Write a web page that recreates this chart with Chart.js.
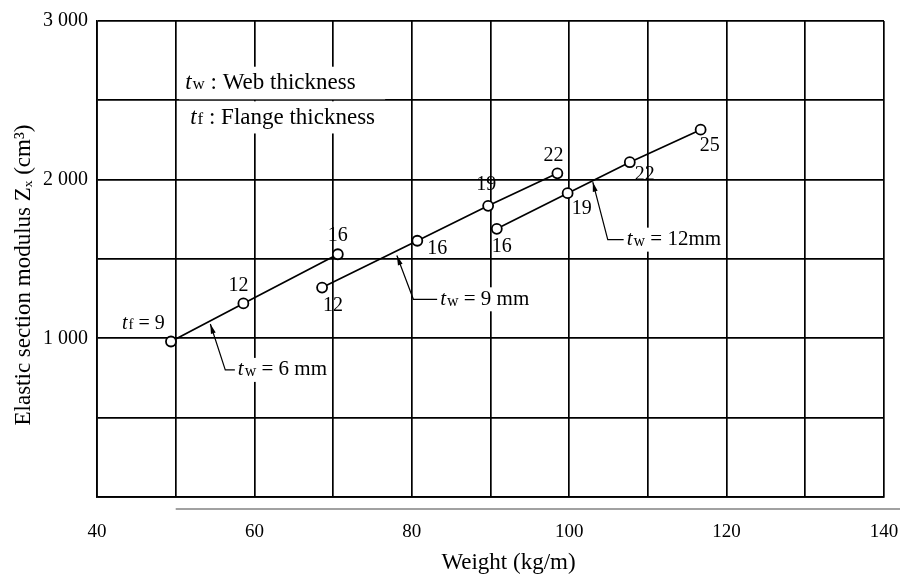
<!DOCTYPE html>
<html>
<head>
<meta charset="utf-8">
<script src="https://cdn.jsdelivr.net/npm/chart.js@4.4.1/dist/chart.umd.min.js"></script>
<style>
  html, body { margin: 0; padding: 0; background: #fff; }
  #wrap { width: 900px; height: 579px; }
</style>
</head>
<body>
<div id="wrap"><canvas id="zxChart" width="900" height="579"></canvas></div>
<script>
// Weight (kg/m) and elastic section modulus Zx (cm3) for each web thickness
const weights6 = [49.4, 58.6, 70.6];
const moduli6 = [980, 1220, 1530];
const flange6 = [9, 12, 16];

const weights9 = [68.6, 80.7, 89.7, 98.5];
const moduli9 = [1320, 1615, 1835, 2040];
const flange9 = [12, 16, 19, 22];

const weights12 = [90.8, 99.8, 107.7, 116.7];
const moduli12 = [1690, 1915, 2110, 2315];
const flange12 = [16, 19, 22, 25];

// Axis ticks and titles
const xTickLabels = [40, 60, 80, 100, 120, 140];
const yTickLabels = [1000, 2000, 3000];
const xTitle = 'Weight (kg/m)';
const yTitle = 'Elastic section modulus Zₓ (cm³)';

// Leader annotations "tw = ..mm": tip on the line, elbow, text start (data units)
const webThickness = ['6', '9', '12'];
const leaderTipX = [54.4, 78.1, 103.0];
const leaderTipY = [1090, 1522, 1985];
const leaderElbowX = [56.3, 80.2, 104.9];
const leaderElbowY = [801, 1246, 1622];
const leaderTextX = [57.9, 83.6, 107.3];

// Where each flange label sits relative to its point (pixel offsets, style only)
const labelOffsets = [
  [[-49, -18], [-5, -18], [0, -18]],
  [[11, 18], [20, 8], [-2, -21], [-4, -18]],
  [[5, 18], [14, 16], [15, 13], [9, 16]]
];

const SERIF = '"Liberation Serif", "DejaVu Serif", serif';

function toPoints(xs, ys) {
  return xs.map((x, i) => ({ x: x, y: ys[i] }));
}

function lineDataset(xs, ys) {
  return {
    data: toPoints(xs, ys),
    borderColor: '#000',
    borderWidth: 1.7,
    pointStyle: 'circle',
    pointRadius: 5,
    pointBorderWidth: 1.8,
    pointBackgroundColor: '#fff',
    pointBorderColor: '#000',
    showLine: true,
    tension: 0
  };
}

// draw "t" italic + small subscript letter + rest of text, returns end x
function drawT(ctx, x, y, sub, rest, size) {
  ctx.textAlign = 'left';
  ctx.textBaseline = 'middle';
  ctx.font = 'italic ' + size + 'px ' + SERIF;
  ctx.fillText('t', x, y);
  x += ctx.measureText('t').width + 1;
  ctx.font = Math.round(size * 0.75) + 'px ' + SERIF;
  ctx.fillText(sub, x, y + 2);
  x += ctx.measureText(sub).width;
  ctx.font = size + 'px ' + SERIF;
  ctx.fillText(rest, x, y);
  return x + ctx.measureText(rest).width;
}

const annotationPlugin = {
  id: 'annotations',
  afterDatasetsDraw(chart) {
    const ctx = chart.ctx;
    const xs = chart.scales.x;
    const ys = chart.scales.y;
    const area = chart.chartArea;
    ctx.save();
    ctx.fillStyle = '#000';
    ctx.strokeStyle = '#000';

    // flange thickness labels next to points
    const flanges = [flange6, flange9, flange12];
    chart.data.datasets.forEach((ds, d) => {
      const meta = chart.getDatasetMeta(d);
      meta.data.forEach((pt, i) => {
        const off = labelOffsets[d][i];
        const px = pt.x + off[0];
        const py = pt.y + off[1];
        if (d === 0 && i === 0) {
          drawT(ctx, px, py, 'f', ' = ' + flanges[d][i], 20);
        } else {
          ctx.font = '20px ' + SERIF;
          ctx.textAlign = 'center';
          ctx.textBaseline = 'middle';
          ctx.fillText(String(flanges[d][i]), px, py);
        }
      });
    });

    // leader lines with arrowheads
    webThickness.forEach((w, i) => {
      const tx = xs.getPixelForValue(leaderTipX[i]);
      const ty = ys.getPixelForValue(leaderTipY[i]);
      const ex = xs.getPixelForValue(leaderElbowX[i]);
      const ey = ys.getPixelForValue(leaderElbowY[i]);
      const sx = xs.getPixelForValue(leaderTextX[i]);
      ctx.lineWidth = 1.2;
      ctx.beginPath();
      ctx.moveTo(tx, ty);
      ctx.lineTo(ex, ey);
      ctx.lineTo(sx - 3, ey);
      ctx.stroke();
      // arrowhead pointing at the tip
      const ang = Math.atan2(ty - ey, tx - ex);
      ctx.beginPath();
      ctx.moveTo(tx, ty);
      ctx.lineTo(tx - 10 * Math.cos(ang - 0.25), ty - 10 * Math.sin(ang - 0.25));
      ctx.lineTo(tx - 10 * Math.cos(ang + 0.25), ty - 10 * Math.sin(ang + 0.25));
      ctx.closePath();
      ctx.fill();
      const rest = ' = ' + w + (w.length > 1 ? 'mm' : ' mm');
      ctx.font = '21px ' + SERIF;
      const width = ctx.measureText(rest).width + 20;
      ctx.fillStyle = '#fff';
      ctx.fillRect(sx - 1, ey - 12, width + 4, 24);
      ctx.fillStyle = '#000';
      drawT(ctx, sx, ey, 'w', rest, 21);
    });

    // key text box (the 2500 grid line stays visible between the rows)
    const kx = xs.getPixelForValue(51.2);
    const ky1 = ys.getPixelForValue(2611);
    const ky2 = ys.getPixelForValue(2392);
    const mid = ys.getPixelForValue(2500);
    ctx.fillStyle = '#fff';
    ctx.fillRect(kx - 6, ky1 - 16, 206, mid - 1 - (ky1 - 16));
    ctx.fillRect(kx - 6, mid + 1, 212, ky2 + 16 - (mid + 1));
    ctx.fillStyle = '#000';
    drawT(ctx, kx, ky1, 'w', ' : Web thickness', 23);
    drawT(ctx, kx + 5, ky2, 'f', ' : Flange thickness', 23);

    // separate baseline under the plot, starting at 50 kg/m
    ctx.strokeStyle = '#444';
    ctx.lineWidth = 1.2;
    ctx.beginPath();
    ctx.moveTo(xs.getPixelForValue(50), area.bottom + 12);
    ctx.lineTo(chart.width, area.bottom + 12);
    ctx.stroke();

    // axis titles (sit a little past the centre, as in the original)
    ctx.fillStyle = '#000';
    ctx.textAlign = 'center';
    ctx.textBaseline = 'middle';
    ctx.font = '23px ' + SERIF;
    ctx.fillText(xTitle, (area.left + area.right) / 2 + 18, area.bottom + 66);
    ctx.save();
    ctx.translate(24, (area.top + area.bottom) / 2 + 16);
    ctx.rotate(-Math.PI / 2);
    ctx.fillText(yTitle, 0, 0);
    ctx.restore();
    ctx.restore();
  }
};

// Build the chart
const ctx = document.getElementById('zxChart').getContext('2d');
new Chart(ctx, {
  type: 'scatter',
  data: {
    datasets: [
      lineDataset(weights6, moduli6),
      lineDataset(weights9, moduli9),
      lineDataset(weights12, moduli12)
    ]
  },
  options: {
    responsive: false,
    animation: false,
    layout: { padding: { top: 18, right: 16, left: 0, bottom: 0 } },
    plugins: {
      legend: { display: false },
      tooltip: { enabled: false }
    },
    scales: {
      x: {
        type: 'linear',
        min: 40,
        max: 140,
        afterFit: (scale) => {
          scale.height = 82;
          scale.paddingRight = 0;
          scale.paddingLeft = 0;
        },
        ticks: {
          stepSize: 10,
          autoSkip: false,
          maxRotation: 0,
          padding: 24,
          color: '#000',
          font: { family: SERIF, size: 19 },
          callback: (v) => xTickLabels.includes(v) ? String(v) : ''
        },
        grid: { color: '#000', lineWidth: 1.7, drawTicks: false },
        border: { color: '#000', width: 1.7 },
        title: { display: false }
      },
      y: {
        type: 'linear',
        min: 0,
        max: 3000,
        afterFit: (scale) => { scale.width = 97; },
        ticks: {
          stepSize: 500,
          autoSkip: false,
          padding: 9,
          color: '#000',
          font: { family: SERIF, size: 20 },
          callback: (v) => yTickLabels.includes(v) ? String(v).replace(/(\d)(\d{3})$/, '$1 $2') : ''
        },
        grid: { color: '#000', lineWidth: 1.7, drawTicks: false },
        border: { color: '#000', width: 1.7 },
        title: { display: false }
      }
    }
  },
  plugins: [annotationPlugin]
});
</script>
</body>
</html>
